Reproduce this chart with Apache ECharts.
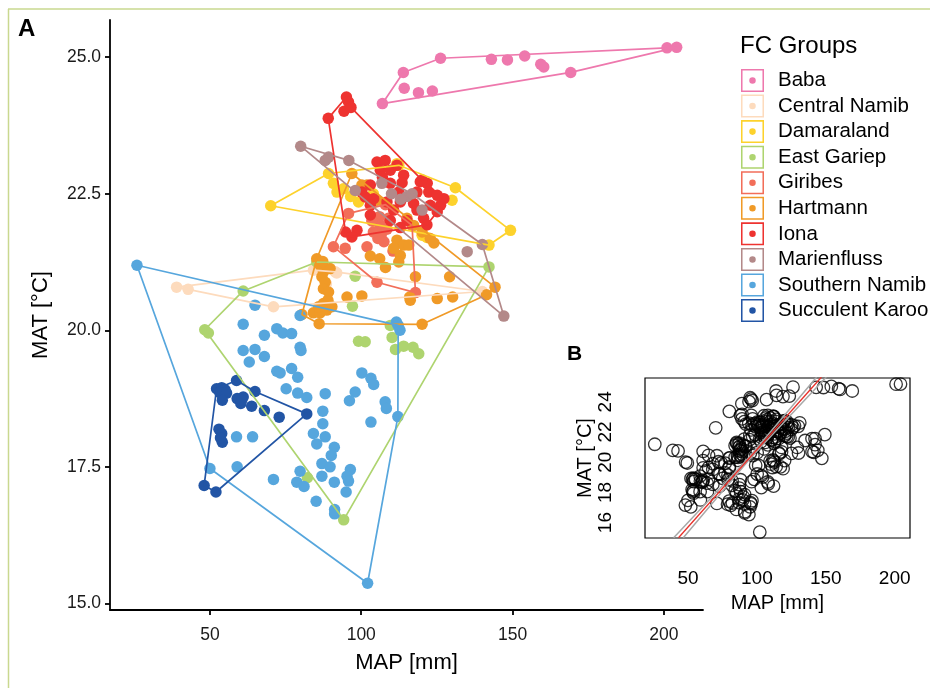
<!DOCTYPE html>
<html><head><meta charset="utf-8">
<script src="https://cdn.jsdelivr.net/npm/echarts@6/dist/echarts.min.js"></script>
<style>html,body{margin:0;padding:0;background:#fff}#c{width:930px;height:688px}</style>
</head><body><div id="c"></div>
<script>
const FONT = '"Liberation Sans", Arial, Helvetica, sans-serif';

// ---- groups (legend order) ----
const groupNames = ['Baba','Central Namib','Damaraland','East Gariep','Giribes','Hartmann','Iona','Marienfluss','Southern Namib','Succulent Karoo'];
const groupColors = ['#EE78AD','#FDDBBD','#FDD22C','#AED46F','#F26E59','#F09A27','#EE3330','#B38989','#56A6DD','#2255A5'];

// ---- points [MAP mm, MAT °C] and hull vertex indices ----
const baba = [[107.0,24.15],[113.9,24.72],[126.2,24.98],[143.0,24.96],[148.3,24.95],[154.0,25.02],[159.3,24.87],[160.3,24.82],[169.2,24.72],[201.0,25.17],[204.2,25.18],[114.2,24.43],[118.9,24.35],[123.5,24.38]];
const babaHull = [0,1,2,9,10,8,0];

const centralNamib = [[39.0,20.79],[42.8,20.75],[71.0,20.43],[84.2,21.10],[91.4,21.07],[140.0,20.71],[88.5,20.85],[91.9,21.05]];
const centralNamibHull = [0,3,4,5,2,1,0];

const damaraland = [[70.1,22.28],[89.2,22.87],[112.4,23.02],[131.1,22.61],[149.3,21.83],[142.2,21.56],[90.8,22.69],[92.0,22.53],[94.1,22.59],[99.1,22.35],[130.0,22.38],[120.1,21.74],[121.7,21.70],[105.2,21.86],[111.8,23.05],[96.5,22.45],[104.0,22.5]];
const damaralandHull = [0,1,2,3,4,5,0];

const eastGariep = [[48.3,20.01],[49.5,19.95],[61.0,20.72],[85.3,21.25],[142.2,21.16],[94.2,16.53],[82.2,17.30],[98.0,20.99],[97.1,20.44],[99.1,19.80],[101.3,19.79],[109.6,20.09],[110.2,19.87],[111.3,19.65],[114.0,19.71],[117.1,19.69],[119.0,19.57]];
const eastGariepHull = [0,2,3,4,5,0];

const giribes = [[90.8,21.53],[94.7,21.50],[95.8,22.14],[101.9,21.53],[105.2,20.88],[117.9,20.69],[106.3,21.92],[106.6,21.75],[107.5,21.62],[108.5,21.85],[105.5,21.68],[109.0,22.05],[106.0,22.08],[116.8,21.92],[103.5,22.0],[110.5,21.45],[104.0,21.8],[108.0,22.3]];
const giribesHull = [0,2,17,13,5,4,0];

const hartmann = [[85.3,21.31],[80.4,20.29],[86.1,20.12],[120.1,20.11],[141.4,20.65],[144.2,20.79],[96.9,22.87],[103.0,21.36],[106.1,21.31],[111.8,21.65],[114.0,21.56],[112.9,21.37],[112.4,21.25],[115.7,21.56],[110.7,21.50],[117.9,20.98],[129.2,20.98],[120.1,21.80],[122.8,21.68],[87.0,20.98],[88.1,20.88],[87.5,20.76],[89.2,20.70],[87.5,21.07],[89.7,21.13],[86.4,21.19],[95.3,20.61],[100.2,20.63],[116.0,20.61],[125.1,20.58],[130.2,20.61],[84.2,20.32],[86.4,20.32],[88.6,20.37],[90.3,20.43],[85.9,20.43],[87.5,20.49],[87.3,21.26],[105.2,22.38],[101.9,22.66],[100.2,22.66],[115.1,22.05],[117.3,21.92],[116.2,20.55],[124.0,21.6],[108.0,21.15],[89.0,20.55]];
const hartmannHull = [6,5,4,3,2,1,0,6];

const iona = [[95.1,24.27],[95.8,24.18],[94.3,24.01],[96.6,24.08],[89.1,23.88],[105.2,23.08],[107.9,23.11],[111.8,23.02],[109.6,22.93],[106.3,22.93],[114.0,22.84],[119.5,22.72],[121.8,22.69],[122.3,22.53],[118.4,22.53],[112.4,22.53],[109.6,22.69],[103.0,22.66],[100.2,22.53],[101.3,22.44],[104.1,22.41],[103.0,22.29],[108.5,22.35],[112.9,22.35],[117.3,22.32],[118.4,22.20],[122.8,22.29],[126.2,22.29],[127.3,22.41],[125.1,22.47],[103.0,22.11],[110.7,22.20],[109.6,22.01],[115.1,22.01],[120.6,22.05],[125.1,22.17],[94.8,21.80],[98.6,21.83],[96.9,21.71],[112.9,21.88],[121.7,21.93],[120.1,22.75],[107.0,22.8],[113.5,22.7]];
const ionaHull = [4,0,3,41,28,27,35,40,38,36,4];

const marienfluss = [[80.0,23.37],[88.1,23.11],[89.2,23.17],[95.9,23.11],[98.0,22.56],[106.8,22.69],[115.1,22.45],[116.8,22.50],[120.1,22.2],[135.0,21.44],[140.0,21.57],[147.1,20.26],[113.0,22.40],[110.0,22.5]];
const marienflussHull = [0,3,7,10,11,0];

const southernNamib = [[25.9,21.19],[50.0,17.47],[102.1,15.37],[112.1,18.42],[112.2,20.09],[111.6,20.15],[112.8,20.0],[64.9,20.46],[61.0,20.11],[72.1,20.03],[74.1,19.95],[77.0,19.94],[68.0,19.91],[79.8,19.69],[80.1,19.63],[61.0,19.63],[64.9,19.65],[63.0,19.42],[68.0,19.52],[72.1,19.25],[73.2,19.22],[77.0,19.30],[79.0,19.14],[75.2,18.93],[79.0,18.85],[82.0,18.77],[88.1,18.84],[100.2,19.22],[103.2,19.12],[104.1,19.01],[98.0,18.87],[96.1,18.71],[107.9,18.69],[108.3,18.57],[103.2,18.32],[87.3,18.52],[87.3,18.29],[84.2,18.11],[58.8,18.05],[64.1,18.05],[88.1,18.05],[85.3,17.92],[91.1,17.86],[90.1,17.71],[87.0,17.56],[89.7,17.50],[96.4,17.45],[95.3,17.33],[95.8,17.24],[95.0,17.04],[87.0,17.33],[91.1,17.22],[79.8,17.42],[78.7,17.22],[81.1,17.14],[71.0,17.27],[85.1,16.87],[91.2,16.72],[91.2,16.64],[59.0,17.50],[79.8,20.27]];
const southernNamibHull = [0,1,2,3,4,0];

const succulentKaroo = [[58.8,19.08],[52.2,18.93],[53.9,18.95],[55.0,18.91],[53.3,18.86],[55.5,18.85],[54.1,18.72],[64.9,18.88],[59.0,18.75],[61.0,18.78],[60.2,18.66],[63.8,18.61],[68.0,18.53],[72.9,18.41],[82.0,18.47],[53.0,18.19],[53.9,18.11],[54.1,17.95],[53.5,18.03],[48.1,17.16],[52.0,17.04],[60.5,18.72]];
const succulentKarooHull = [0,7,14,20,19,1,0];

const groupPoints = [baba,centralNamib,damaraland,eastGariep,giribes,hartmann,iona,marienfluss,southernNamib,succulentKaroo];
const groupHulls = [babaHull,centralNamibHull,damaralandHull,eastGariepHull,giribesHull,hartmannHull,ionaHull,marienflussHull,southernNamibHull,succulentKarooHull];

// ---- axis ticks ----
const mainXTicks = [50,100,150,200];
const mainYTicks = [15,17.5,20,22.5,25];
const insetXTicks = [50,100,150,200];
const insetYTicks = [16,18,20,22,24];

// ---- inset regression line and confidence band ----
const fitLine = [[43.1,15.0],[146.9,25.65]];
const bandUpper = [[39.6,15.0],[66.5,17.62],[94.0,20.3],[118.8,22.98],[143.4,25.65]];
const bandLower = [[46.6,15.0],[70.7,17.62],[95.6,20.3],[123.0,22.98],[150.4,25.65]];

const legendIcon = 'path://M0,0L24,0L24,24L0,24Z M1.6,1.6L1.6,22.4L22.4,22.4L22.4,1.6Z M8.6,12A3.4,3.4,0,1,0,15.4,12A3.4,3.4,0,1,0,8.6,12Z';

const series = [];
groupNames.forEach((n,i)=>{
  series.push({name:n,type:'scatter',xAxisIndex:0,yAxisIndex:0,data:groupPoints[i],symbol:'circle',symbolSize:11.5,
    itemStyle:{color:groupColors[i],opacity:1},z:2,silent:true});
});
groupNames.forEach((n,i)=>{
  series.push({name:n,type:'line',xAxisIndex:0,yAxisIndex:0,data:groupHulls[i].map(k=>groupPoints[i][k]),
    symbol:'none',showSymbol:false,lineStyle:{color:groupColors[i],width:1.7},itemStyle:{color:groupColors[i]},z:3,silent:true,clip:false});
});
const allPts = [].concat(...groupPoints);
series.push({type:'scatter',xAxisIndex:1,yAxisIndex:1,data:allPts,symbol:'circle',symbolSize:12.5,
  itemStyle:{color:'rgba(0,0,0,0)',borderColor:'#000',borderWidth:1.3},silent:true,z:2});
series.push({type:'line',xAxisIndex:1,yAxisIndex:1,data:bandUpper,symbol:'none',lineStyle:{color:'#A8A8A8',width:1.5},silent:true,clip:true,z:3});
series.push({type:'line',xAxisIndex:1,yAxisIndex:1,data:bandLower,symbol:'none',lineStyle:{color:'#A8A8A8',width:1.5},silent:true,clip:true,z:3});
series.push({type:'line',xAxisIndex:1,yAxisIndex:1,data:fitLine,symbol:'none',lineStyle:{color:'#E8302A',width:1.3},silent:true,clip:true,z:4});

const axisBlack = {color:'#000',width:1.8};
const option = {
  animation:false,
  backgroundColor:'#fff',
  textStyle:{fontFamily:FONT},
  title:{text:'FC Groups',left:740,top:34,padding:0,textStyle:{fontFamily:FONT,fontSize:24,fontWeight:'normal',color:'#000'}},
  legend:{orient:'vertical',left:741,top:69,padding:0,itemWidth:23,itemHeight:23,itemGap:2.56,selectedMode:false,
    data:groupNames.map((n,i)=>({name:n,icon:legendIcon,itemStyle:{color:groupColors[i]}})),
    textStyle:{fontFamily:FONT,fontSize:20.5,color:'#000',padding:[0,0,0,9]}},
  grid:[
    {left:110,top:20,width:593,height:590,containLabel:false},
    {left:645,top:378,width:265,height:160,show:true,borderColor:'#000',borderWidth:1.2,backgroundColor:'rgba(0,0,0,0)'}
  ],
  xAxis:[
    {type:'value',gridIndex:0,min:17.0,max:212.9,splitLine:{show:false},
      axisLine:{show:true,onZero:false,lineStyle:axisBlack},
      axisTick:{show:true,length:5,lineStyle:axisBlack,customValues:mainXTicks},
      axisLabel:{customValues:mainXTicks,fontSize:17.5,color:'#1a1a1a',margin:16,fontFamily:FONT},
      name:'MAP [mm]',nameLocation:'middle',nameGap:42,nameTextStyle:{fontSize:22,color:'#000',fontFamily:FONT}},
    {type:'value',gridIndex:1,min:18.8,max:211.1,splitLine:{show:false},
      axisLine:{show:false},axisTick:{show:false},
      axisLabel:{customValues:insetXTicks,fontSize:19,color:'#000',margin:31,fontFamily:FONT},
      name:'MAP [mm]',nameLocation:'middle',nameGap:55,nameTextStyle:{fontSize:20,color:'#000',fontFamily:FONT}}
  ],
  yAxis:[
    {type:'value',gridIndex:0,min:14.88,max:25.68,splitLine:{show:false},
      axisLine:{show:true,onZero:false,lineStyle:axisBlack},
      axisTick:{show:true,length:5,lineStyle:axisBlack,customValues:mainYTicks},
      axisLabel:{customValues:mainYTicks,fontSize:17.5,color:'#1a1a1a',margin:9,fontFamily:FONT,formatter:v=>Number(v).toFixed(1)},
      name:'MAT [°C]',nameLocation:'middle',nameGap:58,nameTextStyle:{fontSize:22,color:'#000',fontFamily:FONT}},
    {type:'value',gridIndex:1,min:14.98,max:25.58,splitLine:{show:false},
      axisLine:{show:false},axisTick:{show:false},
      axisLabel:{customValues:insetYTicks,fontSize:19,color:'#000',margin:30,rotate:90,fontFamily:FONT},
      name:'MAT [°C]',nameLocation:'middle',nameGap:50,nameTextStyle:{fontSize:20,color:'#000',fontFamily:FONT}}
  ],
  graphic:[
    {type:'line',shape:{x1:8,y1:9,x2:930,y2:9},style:{stroke:'#C9D88F',lineWidth:1.5},silent:true},
    {type:'line',shape:{x1:8.5,y1:9,x2:8.5,y2:688},style:{stroke:'#C9D88F',lineWidth:1.5},silent:true},
    {type:'text',left:18,top:17,style:{text:'A',font:'bold 24px '+FONT,fill:'#000'},silent:true},
    {type:'text',left:567,top:344,style:{text:'B',font:'bold 21px '+FONT,fill:'#000'},silent:true}
  ],
  series:series
};
const chart = echarts.init(document.getElementById('c'),null,{renderer:'canvas'});
chart.setOption(option);
</script></body></html>
